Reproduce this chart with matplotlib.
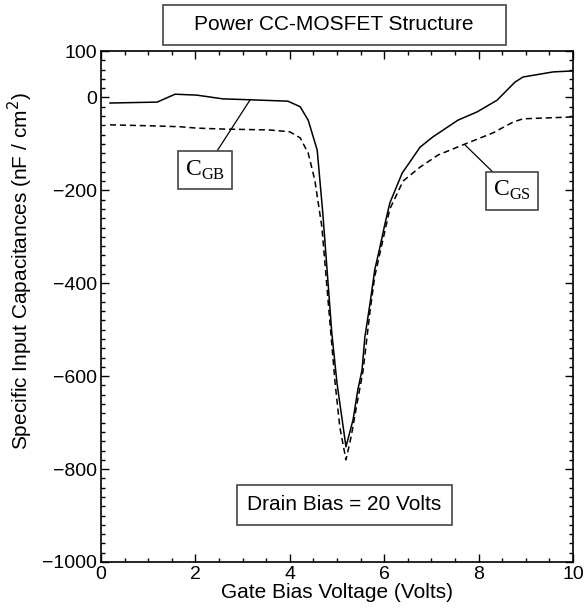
import numpy as np
import matplotlib.pyplot as plt
from matplotlib.patches import Rectangle
from matplotlib.ticker import MultipleLocator

plt.rcParams['font.family'] = ['Liberation Sans', 'DejaVu Sans']

# C_GB (solid)
v_gb = [0.19, 1.19, 1.57, 2.03, 2.58, 3.16, 3.96, 4.22, 4.39, 4.58, 4.70, 4.89, 5.00,
        5.19, 5.34, 5.44, 5.53, 5.59, 5.70, 5.80, 5.91, 6.02, 6.12, 6.38, 6.76, 7.03,
        7.56, 7.97, 8.39, 8.77, 8.94, 9.58, 9.98]
c_gb = [-12, -10, 7, 5, -3, -5, -8, -20, -49, -113, -250, -507, -615,
        -752, -694, -630, -587, -516, -443, -371, -322, -270, -227, -163, -107, -85,
        -49, -31, -6, 33, 44, 55, 57]

# C_GS (dashed)
v_gs = [0.19, 1.04, 1.67, 2.03, 2.58, 3.58, 4.00, 4.22, 4.39, 4.53, 4.68, 4.81, 4.96,
        5.06, 5.19, 5.30, 5.44, 5.55, 5.70, 5.80, 5.91, 6.02, 6.12, 6.40, 6.76, 7.14,
        7.67, 8.31, 8.73, 8.94, 9.98]
c_gs = [-59, -61, -63, -66, -68, -70, -74, -87, -120, -178, -279, -436, -615,
        -710, -780, -730, -650, -590, -460, -385, -335, -285, -240, -180, -150, -124,
        -102, -76, -53, -46, -42]

yticks = [100, 0, -200, -400, -600, -800, -1000]

W, H = 585, 615
fig = plt.figure(figsize=(W / 100, H / 100), dpi=100)
ax = fig.add_axes([101 / W, 1 - 562 / H, 472 / W, 511 / H])

ax.plot(v_gb, c_gb, color='black', lw=1.1)
ax.plot(v_gs, c_gs, color='black', lw=1.1, ls=(0, (4, 2.5)))

ax.set_xlim(0, 10)
ax.set_ylim(-1000, 100)
ax.set_xticks([0, 2, 4, 6, 8, 10])
ax.set_yticks(yticks)
ax.set_yticklabels(['100', '0', '\u2212200', '\u2212400', '\u2212600', '\u2212800', '\u22121000'])
ax.xaxis.set_minor_locator(MultipleLocator(0.5))
ax.yaxis.set_minor_locator(MultipleLocator(20))
ax.tick_params(which='both', direction='in', top=True, right=True, labelsize=14)
ax.tick_params(which='major', length=6, width=1, pad=3)
ax.tick_params(which='minor', length=3, width=1)
for s in ax.spines.values():
    s.set_linewidth(1.2)

ax.set_xlabel('Gate Bias Voltage (Volts)', fontsize=15, labelpad=0)
ax.set_ylabel('Specific Input Capacitances (nF / cm$^2$)', fontsize=15)
ax.yaxis.set_label_coords(-0.14, 0.57)

# title box
fig.patches.append(Rectangle((163 / W, 1 - 45 / H), 343 / W, 40 / H, transform=fig.transFigure,
                             fc='white', ec='#444444', lw=1.2))
fig.text(334 / W, 1 - 25 / H, 'Power CC-MOSFET Structure', ha='center', va='center', fontsize=15)

ax.text(5.15, -877, 'Drain Bias = 20 Volts', ha='center', va='center', fontsize=15,
        bbox=dict(boxstyle='square,pad=0.5', fc='white', ec='#444444', lw=1.2))

serif = 'Liberation Serif'
ax.annotate('C$_{\\mathregular{GB}}$', xy=(3.16, -5), xytext=(2.2, -156),
            ha='center', va='center', fontsize=17, family=serif,
            bbox=dict(boxstyle='square,pad=0.3', fc='white', ec='#444444', lw=1.2),
            arrowprops=dict(arrowstyle='-', color='black', lw=0.9, shrinkA=0, shrinkB=0))
ax.annotate('C$_{\\mathregular{GS}}$', xy=(7.71, -102), xytext=(8.71, -201),
            ha='center', va='center', fontsize=17, family=serif,
            bbox=dict(boxstyle='square,pad=0.3', fc='white', ec='#444444', lw=1.2),
            arrowprops=dict(arrowstyle='-', color='black', lw=0.9, shrinkA=0, shrinkB=0))

fig.savefig('out.png', dpi=100)
